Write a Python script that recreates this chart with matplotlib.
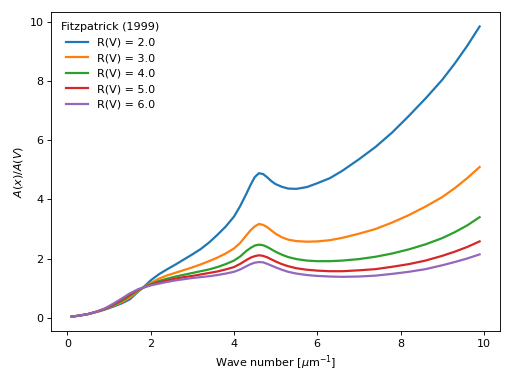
import matplotlib
matplotlib.use("Agg")
import matplotlib.pyplot as plt

# wave number points [1/micron]
x = [0.1, 0.3, 0.5, 0.7, 0.9, 1.1, 1.3, 1.5, 1.7, 1.85, 2.0, 2.2, 2.4, 2.6, 2.8,
     3.0, 3.2, 3.4, 3.6, 3.8, 4.0, 4.15, 4.3, 4.4, 4.5, 4.6, 4.7, 4.8, 4.9, 5.0,
     5.15, 5.3, 5.5, 5.75, 6.0, 6.3, 6.6, 7.0, 7.4, 7.8, 8.2, 8.6, 9.0, 9.3, 9.6, 9.9]

rv_labels = ["2.0", "3.0", "4.0", "5.0", "6.0"]

ext_rv2 = [0.03, 0.07, 0.12, 0.19, 0.27, 0.37, 0.48, 0.62, 0.88, 1.06, 1.26, 1.47, 1.64, 1.80, 1.97,
           2.14, 2.32, 2.54, 2.80, 3.08, 3.42, 3.78, 4.20, 4.50, 4.76, 4.89, 4.86, 4.75, 4.62, 4.52,
           4.43, 4.37, 4.36, 4.42, 4.55, 4.72, 4.97, 5.36, 5.78, 6.27, 6.83, 7.42, 8.05, 8.60, 9.20, 9.86]
ext_rv3 = [0.03, 0.07, 0.12, 0.19, 0.28, 0.40, 0.52, 0.68, 0.90, 1.04, 1.17, 1.32, 1.43, 1.52, 1.61,
           1.70, 1.80, 1.91, 2.03, 2.17, 2.34, 2.53, 2.79, 2.96, 3.09, 3.17, 3.14, 3.06, 2.95, 2.84,
           2.72, 2.64, 2.59, 2.57, 2.58, 2.62, 2.70, 2.84, 3.00, 3.22, 3.47, 3.76, 4.08, 4.38, 4.72, 5.10]
ext_rv4 = [0.03, 0.07, 0.12, 0.20, 0.29, 0.42, 0.56, 0.74, 0.93, 1.03, 1.13, 1.24, 1.32, 1.39, 1.45,
           1.51, 1.57, 1.63, 1.71, 1.81, 1.93, 2.07, 2.26, 2.36, 2.44, 2.47, 2.45, 2.39, 2.31, 2.23,
           2.13, 2.05, 1.98, 1.93, 1.91, 1.91, 1.93, 1.98, 2.06, 2.17, 2.31, 2.48, 2.69, 2.89, 3.12, 3.40]
ext_rv5 = [0.03, 0.07, 0.12, 0.20, 0.30, 0.44, 0.60, 0.78, 0.95, 1.03, 1.11, 1.19, 1.26, 1.32, 1.37,
           1.41, 1.46, 1.51, 1.56, 1.63, 1.71, 1.82, 1.95, 2.03, 2.08, 2.11, 2.09, 2.04, 1.97, 1.90,
           1.81, 1.74, 1.67, 1.62, 1.59, 1.57, 1.57, 1.60, 1.64, 1.72, 1.81, 1.93, 2.09, 2.23, 2.39, 2.58]
ext_rv6 = [0.03, 0.07, 0.12, 0.20, 0.31, 0.47, 0.64, 0.82, 0.96, 1.03, 1.09, 1.15, 1.21, 1.26, 1.30,
           1.34, 1.37, 1.40, 1.44, 1.49, 1.55, 1.63, 1.74, 1.81, 1.86, 1.88, 1.87, 1.82, 1.76, 1.70,
           1.62, 1.55, 1.49, 1.44, 1.41, 1.39, 1.38, 1.39, 1.42, 1.48, 1.55, 1.64, 1.77, 1.88, 2.00, 2.14]

curves = [ext_rv2, ext_rv3, ext_rv4, ext_rv5, ext_rv6]

fig, ax = plt.subplots(figsize=(6.4, 4.8), dpi=80)

for rv, ext in zip(rv_labels, curves):
    ax.plot(x, ext, lw=2, label="R(V) = " + rv)

ax.set_xlabel(r"Wave number [$\mu$m$^{-1}$]")
ax.set_ylabel(r"$A(x)/A(V)$")
ax.legend(loc="best", title="Fitzpatrick (1999)", frameon=False)

plt.tight_layout()
plt.savefig("out.png")
